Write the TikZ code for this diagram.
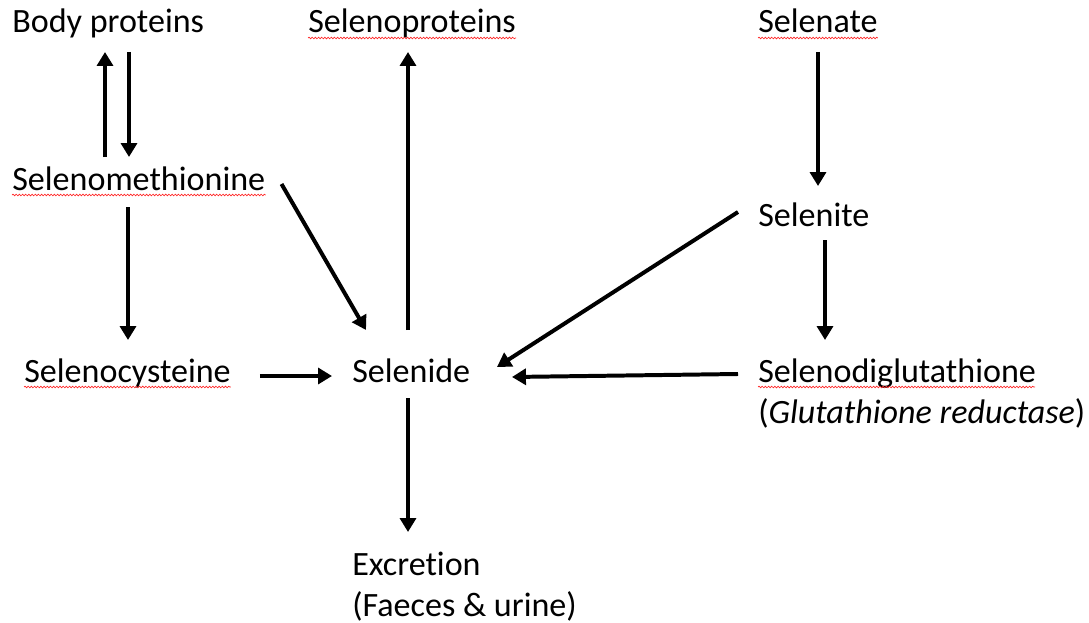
\documentclass[tikz,border=0pt]{standalone}
\usepackage{fontspec}
\setmainfont[Ligatures=NoCommon]{Carlito}
\usetikzlibrary{calc,arrows.meta,decorations.pathmorphing}

\newcommand{\Lw}{3pt}
\newcommand{\Gap}{5}

\tikzset{
    compound/.style={anchor=base west, inner sep=0pt, align=left,
        font=\fontsize{25.7pt}{30.8pt}\selectfont},
    flow/.style={line width=\Lw, -{Triangle[length=10.5pt,width=12pt]}},
    spellmark/.style={red!85!white, line width=0.5pt,
        decorate, decoration={snake, amplitude=0.6pt, segment length=2.4pt}}
}

\begin{document}
\begin{tikzpicture}[x=0.0265cm, y=-0.0265cm]
        \useasboundingbox (0,0) rectangle (1089,623);

        \node[compound] (bodyprot) at (12,33) {Body proteins};
        \node[compound] (selprot) at (308,33) {Selenoproteins};
        \node[compound] (selate) at (758,33) {Selenate};
        \node[compound] (selmet) at (12,190) {Selenomethionine};
        \node[compound] (selite) at (758,226) {Selenite};
        \node[compound] (selcys) at (24,382) {Selenocysteine};
        \node[compound] (selide) at (352,382) {Selenide};
        \node[compound] (seldi) at (758,423) {Selenodiglutathione\\(\textit{Glutathione reductase})};% base = last line
        \node[compound] (excr) at (352,616) {Excretion\\(Faeces \& urine)};

        % spell-check marks
        \foreach \n in {selprot,selate,selmet,selcys}
            \draw[spellmark] ($(\n.base west)+(0,\Gap)$) -- ($(\n.base east)+(0,\Gap)$);
        \draw[spellmark] ($(seldi.base west)+(0,\Gap-41)$) -- ($(seldi.base west)+(277,\Gap-41)$);

        \draw[flow] ($(selmet.base west)+(93,-33)$) -- ($(bodyprot.base west)+(93,19)$);% up
        \draw[flow] ($(bodyprot.base west)+(117,19)$) -- ($(selmet.base west)+(117,-33)$);% down
        \draw[flow] ($(selmet.base west)+(116,17)$) -- ($(selcys.base west)+(104,-42)$);
        \draw[flow] ($(selmet.base east)+(16,-6)$) -- ($(selide.base west)+(14,-52)$);
        \draw[flow] ($(selcys.base east)+(29,-6)$) -- ($(selide.base west)+(-20,-6)$);
        \draw[flow] ($(selide.base west)+(56,-52)$) -- ($(selprot.base west)+(100,19)$);
        \draw[flow] ($(selate.base west)+(60,19)$) -- ($(selite.base west)+(60,-40)$);
        \draw[flow] ($(selite.base west)+(-20,-14)$) -- ($(selide.base west)+(145,-15)$);
        \draw[flow] ($(selite.base west)+(67,14)$) -- ($(seldi.base west)+(67,-83)$);
        \draw[flow] ($(seldi.base west)+(-20,-49)$) -- ($(selide.base west)+(160,-5)$);
        \draw[flow] ($(selide.base west)+(56,16)$) -- ($(excr.base west)+(56,-84)$);
    \end{tikzpicture}
\end{document}
